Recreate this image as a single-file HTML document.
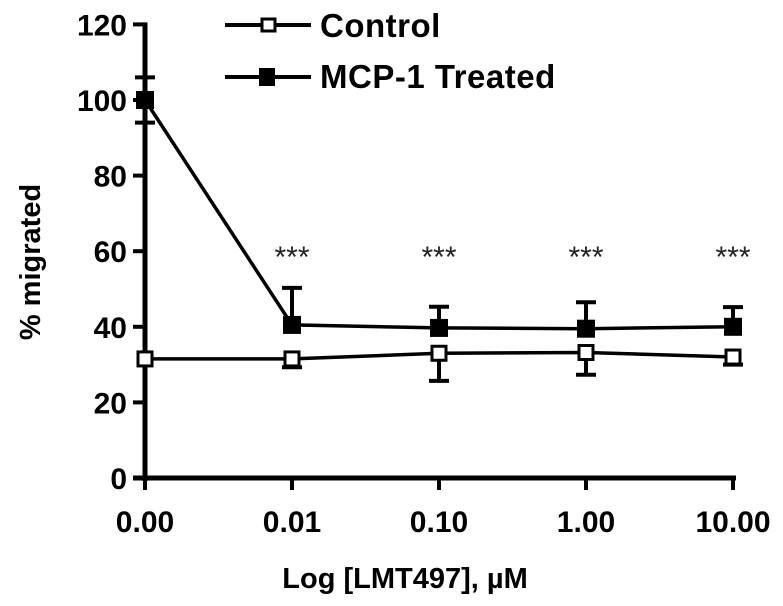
<!DOCTYPE html>
<html><head><meta charset="utf-8"><style>
body{margin:0;background:#fff;}
svg text{font-family:"Liberation Sans",Arial,sans-serif;}
</style></head><body>
<svg width="783" height="601" xmlns="http://www.w3.org/2000/svg">
<g id="plot"></g>
</svg>
<script>
const categories=["0.00","0.01","0.10","1.00","10.00"];
const yTicks=[0,20,40,60,80,100,120];
const controlValues=[31.5,31.5,33,33.2,32];
const controlErrLow=[0,2.2,7.3,5.9,2];
const mcpValues=[100,40.5,39.7,39.5,40];
const mcpErrHigh=[6,9.8,5.6,7,5.2];
const mcpErrLow=[6,0,0,0,0];
const stars=["","***","***","***","***"];
const NS="http://www.w3.org/2000/svg";
const g=document.getElementById('plot');
const x0=145,dx=147,yBase=478,ppu=3.78;
const X=i=>x0+i*dx, Y=v=>yBase-v*ppu;
function el(t,a,txt){const e=document.createElementNS(NS,t);for(const k in a)e.setAttribute(k,a[k]);if(txt!==undefined)e.textContent=txt;g.appendChild(e);return e;}
let e=el('line',{x1:x0,y1:Y(120)-2,x2:x0,y2:yBase+3,stroke:'#000','stroke-width':5});

e=el('line',{x1:x0-12,y1:yBase,x2:X(4)+3,y2:yBase,stroke:'#000','stroke-width':5});

yTicks.forEach(v=>{
 const t=el('line',{x1:x0-12,y1:Y(v),x2:x0,y2:Y(v),stroke:'#000','stroke-width':4});
 
 const l=el('text',{x:x0-18,y:Y(v)+11,'text-anchor':'end','font-size':30,'font-weight':'bold'},String(v));
 
});
categories.forEach((c,i)=>{
 const t=el('line',{x1:X(i),y1:yBase,x2:X(i),y2:yBase+12,stroke:'#000','stroke-width':4});
 
 const l=el('text',{x:X(i),y:yBase+54,'text-anchor':'middle','font-size':30,'font-weight':'bold'},c);
 
 if(stars[i]){const s=el('text',{x:X(i),y:Y(60)+16,'text-anchor':'middle','font-size':30,fill:'#222'},stars[i]);
 }
});
e=el('text',{x:405,y:588,'text-anchor':'middle','font-size':29,'font-weight':'bold'},'Log [LMT497], µM');

e=el('text',{x:0,y:0,'text-anchor':'middle','font-size':29,'font-weight':'bold',transform:'translate(40,262) rotate(-90)'},'% migrated');

function errbar(i,v,up,down){
 const top=Y(v+up),bot=Y(v-down);
 const l=el('line',{x1:X(i),y1:top,x2:X(i),y2:bot,stroke:'#000','stroke-width':4});
 
 if(up>0){const c=el('line',{x1:X(i)-10,y1:top,x2:X(i)+10,y2:top,stroke:'#000','stroke-width':4});}
 if(down>0){const c=el('line',{x1:X(i)-10,y1:bot,x2:X(i)+10,y2:bot,stroke:'#000','stroke-width':4});}
}
mcpValues.forEach((v,i)=>errbar(i,v,mcpErrHigh[i],mcpErrLow[i]));
controlValues.forEach((v,i)=>errbar(i,v,0,controlErrLow[i]));
e=el('polyline',{points:controlValues.map((v,i)=>X(i)+','+Y(v)).join(' '),fill:'none',stroke:'#000','stroke-width':3.5});

e=el('polyline',{points:mcpValues.map((v,i)=>X(i)+','+Y(v)).join(' '),fill:'none',stroke:'#000','stroke-width':3.5});

controlValues.forEach((v,i)=>{const r=el('rect',{x:X(i)-7,y:Y(v)-7,width:14,height:14,fill:'#fff',stroke:'#000','stroke-width':3});
 });
mcpValues.forEach((v,i)=>{const r=el('rect',{x:X(i)-9,y:Y(v)-9,width:18,height:18,fill:'#000'});
 });
e=el('line',{x1:225,y1:25,x2:311,y2:25,stroke:'#000','stroke-width':4});
e=el('rect',{x:262,y:19,width:13,height:12,fill:'#fff',stroke:'#000','stroke-width':3});
e=el('text',{x:320,y:37,'font-size':33,'font-weight':'bold','letter-spacing':0.5},'Control');
e=el('line',{x1:225,y1:77,x2:311,y2:77,stroke:'#000','stroke-width':4});
e=el('rect',{x:259,y:68,width:16,height:18,fill:'#000'});
e=el('text',{x:320,y:88,'font-size':33,'font-weight':'bold','letter-spacing':0.5},'MCP-1 Treated');
</script>
</body></html>
